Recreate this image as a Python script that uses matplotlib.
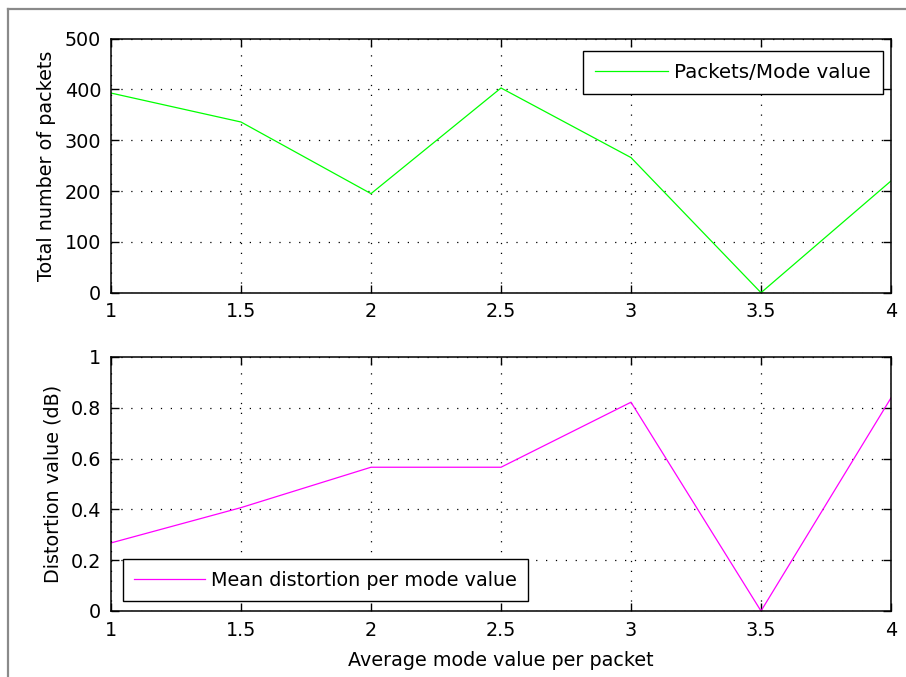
import matplotlib
matplotlib.use('Agg')
import matplotlib.pyplot as plt
from matplotlib.lines import Line2D
from matplotlib.ticker import FormatStrFormatter

plt.rcParams['font.family'] = ['DejaVu Sans']
plt.rcParams['font.size'] = 13.8

# data
modeValue = [1, 1.5, 2, 2.5, 3, 3.5, 4]
numPackets = [393, 336, 195, 403, 266, 0, 220]
meanDistortion = [0.268, 0.407, 0.566, 0.566, 0.822, 0, 0.839]

xticks = [1, 1.5, 2, 2.5, 3, 3.5, 4]
yticks1 = [0, 100, 200, 300, 400, 500]
yticks2 = [0, 0.2, 0.4, 0.6, 0.8, 1]

fig = plt.figure(figsize=[9.06, 6.77], dpi=100)
W, H = 906.0, 677.0

# gray frame at top and left
fig.add_artist(Line2D([8 / W, 8 / W], [0, 1 - 9 / H], color='#8a8a8a', lw=1.6))
fig.add_artist(Line2D([8 / W, 1], [1 - 9 / H, 1 - 9 / H], color='#8a8a8a', lw=1.6))

ax1 = fig.add_axes([111 / W, 1 - 292.7 / H, 780 / W, 254 / H])
ax2 = fig.add_axes([111 / W, 1 - 611 / H, 780 / W, 254 / H])

gridStyle = dict(color='black', linestyle=(0, (1.0, 6.9)), linewidth=0.9)

for ax in [ax1, ax2]:
    ax.set_xlim(1, 4)
    ax.set_xticks(xticks)
    ax.xaxis.set_major_formatter(FormatStrFormatter('%g'))
    ax.yaxis.set_major_formatter(FormatStrFormatter('%g'))
    ax.tick_params(direction='in', length=5.6, width=1.0, top=True, right=True,
                   pad=7, colors='black')
    ax.grid(True, **gridStyle)
    for s in ax.spines.values():
        s.set_linewidth(1.1)

legendStyle = dict(borderaxespad=0, fancybox=False, edgecolor='black', framealpha=1,
                   handlelength=3.7, handletextpad=0.3, borderpad=0.6)

ax1.plot(modeValue, numPackets, color=(0, 1, 0), lw=0.9, label='Packets/Mode value')
ax1.set_ylim(0, 500)
ax1.set_yticks(yticks1)
ax1.set_ylabel('Total number of packets', labelpad=6)
ax1.legend(loc='upper right', bbox_to_anchor=(0.9897, 0.9516), prop={'size': 14.3},
           **legendStyle).get_frame().set_linewidth(1.0)

ax2.plot(modeValue, meanDistortion, color=(1, 0, 1), lw=0.9, label='Mean distortion per mode value')
ax2.set_ylim(0, 1)
ax2.set_yticks(yticks2)
ax2.set_ylabel('Distortion value (dB)', labelpad=6)
ax2.set_xlabel('Average mode value per packet', labelpad=8)
ax2.legend(loc='lower left', bbox_to_anchor=(0.015, 0.039),
           **legendStyle).get_frame().set_linewidth(1.0)

fig.savefig('out.png', dpi=100)
